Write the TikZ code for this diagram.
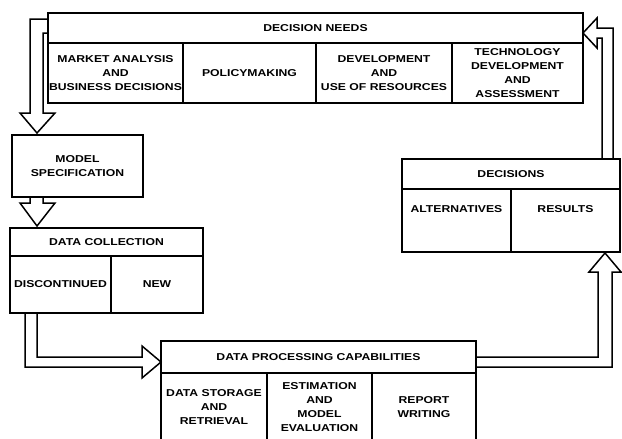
\documentclass[tikz,border=0pt]{standalone}
\usepackage{fontspec}
\newfontfamily\boxfont{Liberation Sans}[FakeStretch=1.22]
\usetikzlibrary{positioning,calc}

\tikzset{
  cell/.style={draw, rectangle, line width=1.3pt, inner sep=0pt, outer sep=0pt, align=center,
    font=\boxfont\bfseries\fontsize{10}{14}\selectfont},
  fatarrow/.style={draw, line width=1.5pt, line join=miter},
}

\begin{document}
\begin{tikzpicture}[x=1pt, y=-1pt]
  \useasboundingbox (0,0) rectangle (622,439);
  % decision needs
  \node[cell, anchor=north west, minimum width=535pt, minimum height=30pt] (needs) at (48,13) {DECISION NEEDS};
  \node[cell, below right=0pt and 0pt of needs.south west, minimum width=135pt, minimum height=60pt] (market) {MARKET ANALYSIS\\AND\\BUSINESS DECISIONS};
  \node[cell, right=0pt of market, minimum width=133pt, minimum height=60pt] (policy) {POLICYMAKING};
  \node[cell, right=0pt of policy, minimum width=136pt, minimum height=60pt] (devres) {DEVELOPMENT\\AND\\USE OF RESOURCES};
  \node[cell, right=0pt of devres, minimum width=131pt, minimum height=60pt] (tech) {TECHNOLOGY\\DEVELOPMENT\\AND\\ASSESSMENT};
  % model specification
  \node[cell, anchor=north west, minimum width=131pt, minimum height=62pt] (model) at (12,135) {MODEL\\SPECIFICATION};
  % data collection
  \node[cell, anchor=north west, minimum width=193pt, minimum height=28pt] (collect) at (10,228) {DATA COLLECTION};
  \node[cell, below right=0pt and 0pt of collect.south west, minimum width=101pt, minimum height=57pt] (disc) {DISCONTINUED};
  \node[cell, right=0pt of disc, minimum width=92pt, minimum height=57pt] (new) {NEW};
  % data processing
  \node[cell, anchor=north west, minimum width=315pt, minimum height=32pt] (proc) at (161,341) {DATA PROCESSING CAPABILITIES};
  \node[cell, below right=0pt and 0pt of proc.south west, minimum width=106pt, minimum height=68pt] (store) {DATA STORAGE\\AND\\RETRIEVAL};
  \node[cell, right=0pt of store, minimum width=105pt, minimum height=68pt] (estim) {ESTIMATION\\AND\\MODEL\\EVALUATION};
  \node[cell, right=0pt of estim, minimum width=104pt, minimum height=68pt] (report) {REPORT\\WRITING};
  % decisions
  \node[cell, anchor=north west, minimum width=218pt, minimum height=30pt] (decide) at (402,159) {DECISIONS};
  \node[cell, below right=0pt and 0pt of decide.south west, minimum width=109pt, minimum height=63pt, text depth=22pt] (alt) {ALTERNATIVES};
  \node[cell, right=0pt of alt, minimum width=109pt, minimum height=63pt, text depth=22pt] (res) {RESULTS};

  % hollow arrows
  \draw[fatarrow] ($(needs.north west)+(0,6)$) -- ++(-18,0) -- ++(0,94) -- ++(-10,0)
    -- ++(17,20) -- ++(18,-20) -- ++(-12,0) -- ++(0,-80) -- ++(5,0);
  \draw[fatarrow] ($(model.south west)+(18,0)$) -- ++(0,6) -- ++(-10,0)
    -- ++(17,23) -- ++(18,-23) -- ++(-12,0) -- ++(0,-6);
  \draw[fatarrow] ($(disc.south west)+(15,0)$) -- ++(0,54) -- ++(117,0) -- ++(0,11)
    -- ++(19,-16) -- ++(-19,-16) -- ++(0,11) -- ++(-105,0) -- ++(0,-44);
  \draw[fatarrow] (proc.east) -- ++(122,0) -- ++(0,-85) -- ++(-9,0)
    -- ++(16,-19) -- ++(16,19) -- ++(-9,0) -- ++(0,95) -- ++(-136,0);
  \draw[fatarrow] ($(decide.north east)+(-18,0)$) -- ++(0,-121) -- ++(-5,0) -- ++(0,10)
    -- ++(-14,-15) -- ++(14,-15) -- ++(0,10) -- ++(16,0) -- ++(0,131);
\end{tikzpicture}
\end{document}
